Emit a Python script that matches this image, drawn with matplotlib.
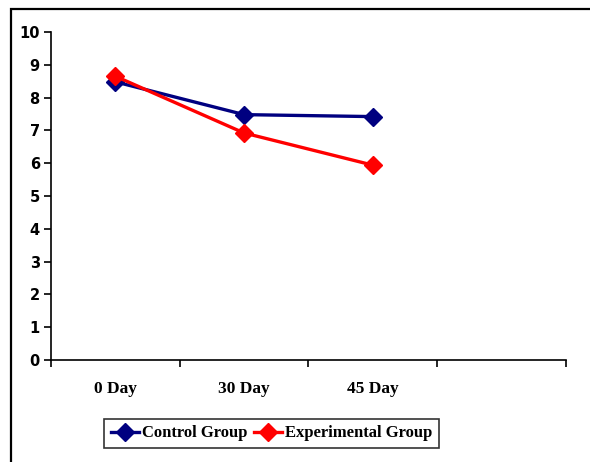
import matplotlib.pyplot as plt
from matplotlib.patches import Rectangle

categories = ["0 Day", "30 Day", "45 Day", ""]
control = [8.48, 7.48, 7.42]
experimental = [8.65, 6.92, 5.94]

fig = plt.figure(figsize=(5.9, 4.62), dpi=100)
ax = fig.add_axes([0.0864, 0.2208, 0.8729, 0.71])

xs = [i + 0.5 for i in range(len(control))]
ax.plot(xs, control, color="#000080", lw=2.4, marker="D", markersize=9.5,
        label="Control Group")
ax.plot(xs, experimental, color="#ff0000", lw=2.4, marker="D", markersize=9.5,
        label="Experimental Group")

ax.set_xlim(0, len(categories))
ax.set_ylim(0, 10)
ax.set_yticks(range(0, 11))
ax.set_yticklabels([str(v) for v in range(0, 11)], fontweight="bold",
                   fontsize=10.5, fontfamily="DejaVu Sans")

# category boundaries as major ticks, labels at centres as minor ticks
ax.set_xticks(range(0, len(categories) + 1))
ax.set_xticklabels([])
ax.set_xticks([i + 0.5 for i in range(len(categories))], minor=True)
ax.set_xticklabels(categories, minor=True, fontweight="bold", fontsize=12.5,
                   fontfamily="Liberation Serif")
ax.tick_params(axis="x", which="minor", length=0, pad=15)
ax.tick_params(axis="x", which="major", direction="out", length=5, width=1.2)
ax.tick_params(axis="y", direction="out", length=5, width=1.2, pad=3)

for side in ["top", "right"]:
    ax.spines[side].set_visible(False)
for side in ["left", "bottom"]:
    ax.spines[side].set_linewidth(1.2)

leg = fig.legend(loc="center", bbox_to_anchor=(0.46, 0.062), ncol=2,
                 frameon=True, fancybox=False, handlelength=1.7,
                 handletextpad=0.15, columnspacing=0.4, borderpad=0.4,
                 borderaxespad=0.3,
                 prop={"family": "Liberation Serif", "weight": "bold", "size": 12})
leg.get_frame().set_edgecolor("black")
leg.get_frame().set_linewidth(1.2)

# outer chart border
fig.add_artist(Rectangle((0.018, -0.2), 1.2, 0.2 + 0.98, transform=fig.transFigure,
                         fill=False, lw=1.6, edgecolor="black"))

fig.savefig("out.png", dpi=100)
